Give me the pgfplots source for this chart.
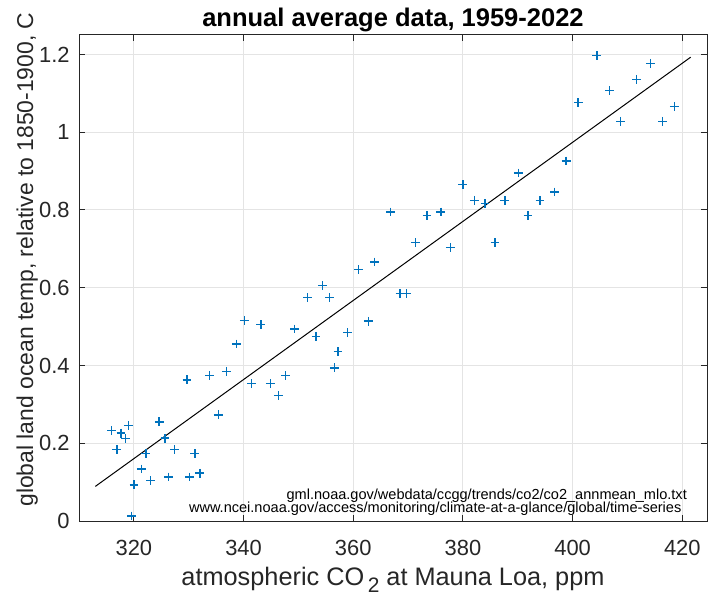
\documentclass[border=0pt]{standalone}
\usepackage{fontspec}
\setmainfont{Liberation Sans}
\usepackage{pgfplots}
\pgfplotsset{compat=1.18}
\definecolor{mblue}{RGB}{0,114,189}
\definecolor{axgray}{RGB}{38,38,38}
\definecolor{gridgray}{RGB}{228,228,228}

\begin{document}
\begin{tikzpicture}
\begin{axis}[
    name=ax,
    scale only axis,
    width=314bp, height=243bp,
    xmin=310, xmax=424.5, ymin=0, ymax=1.25,
    xtick={320,340,360,380,400,420},
    ytick={0,0.2,0.4,0.6,0.8,1,1.2},
    grid=major,
    major grid style={gridgray, line width=0.5bp},
    axis line style={axgray, line width=0.5bp},
    tick style={axgray, line width=0.5bp},
    tick align=inside, major tick length=3bp,
    /pgf/number format/assume math mode=true,
    ticklabel style={font=\fontsize{11}{13}\selectfont, text=axgray},
    xticklabel style={anchor=base, yshift=-17bp},
    yticklabel style={anchor=east, inner sep=0pt, xshift=-4.5bp},
    every axis title shift=0pt,
    title={\textbf{annual average data, 1959-2022}},
    title style={font=\fontsize{12.8}{15}\selectfont, at={(axis description cs:0.5,1.0171)}, anchor=base},
    xlabel={atmospheric CO\raisebox{-0.28em}{\fontsize{10.5}{12}\selectfont\,2} at Mauna Loa, ppm},
    xlabel style={font=\fontsize{12.7}{15}\selectfont, text=axgray, at={(axis description cs:0.5,-0.1317)}, anchor=base},
    ylabel={global land ocean temp, relative to 1850-1900, C},
    ylabel style={font=\fontsize{11.5}{14}\selectfont, text=axgray, at={(axis description cs:-0.0732,0.538)}, anchor=base},
    clip=false,
]
\addplot[only marks, mark=+, mark size=2.2bp, mark options={mblue, line width=0.7bp}] table {
x y
315.98 0.233
316.91 0.184
317.64 0.226
318.45 0.212
318.99 0.245
319.62 0.013
320.04 0.093
321.37 0.134
322.18 0.173
323.05 0.104
324.62 0.255
325.68 0.213
326.32 0.113
327.46 0.184
329.68 0.363
330.19 0.113
331.12 0.173
332.03 0.123
333.84 0.374
335.41 0.273
336.84 0.385
338.76 0.455
340.12 0.515
341.48 0.353
343.15 0.505
344.87 0.353
346.35 0.323
347.61 0.374
349.31 0.494
351.69 0.575
353.20 0.475
354.45 0.605
355.70 0.575
356.54 0.394
357.21 0.436
358.96 0.485
360.97 0.647
362.74 0.514
363.88 0.666
366.84 0.795
368.54 0.585
369.71 0.585
371.32 0.716
373.45 0.786
375.98 0.795
377.70 0.704
379.98 0.865
382.09 0.825
384.02 0.816
385.83 0.716
387.64 0.825
390.10 0.895
391.85 0.786
394.06 0.825
396.74 0.846
398.81 0.926
401.01 1.076
404.41 1.197
406.76 1.107
408.72 1.028
411.65 1.136
414.21 1.177
416.41 1.028
418.53 1.066
};
\addplot[black, line width=0.5bp] coordinates {(312.98,0.089) (421.53,1.193)};
\node[anchor=base east, inner sep=0pt, font=\fontsize{7.3}{8}\selectfont, text=black]
  at (axis cs:420.9,0.0564) {gml.noaa.gov/webdata/ccgg/trends/co2/co2\_annmean\_mlo.txt};
\node[anchor=base east, inner sep=0pt, font=\fontsize{7.3}{8}\selectfont, text=black]
  at (axis cs:419.9,0.0227) {www.ncei.noaa.gov/access/monitoring/climate-at-a-glance/global/time-series};
\end{axis}
\pgfresetboundingbox
\path[use as bounding box] ([shift={(-39.5bp,-37bp)}]ax.south west) rectangle ([shift={(315bp,260.5bp)}]ax.south west);
\end{tikzpicture}
\end{document}
